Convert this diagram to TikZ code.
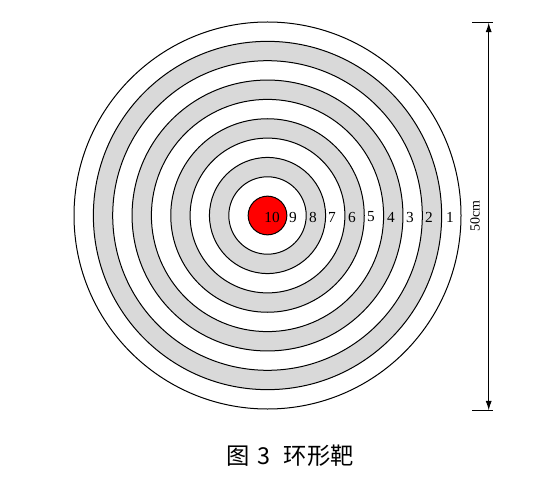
\documentclass[tikz,border=0pt]{standalone}
\usepackage{fontspec}
\setmainfont{Liberation Serif}
\newfontfamily\cjkfont{Noto Sans CJK SC}
\usetikzlibrary{arrows.meta}
\definecolor{ringgray}{RGB}{217,217,217}
\definecolor{bullred}{RGB}{255,0,0}
\begin{document}
\begin{tikzpicture}[x=0.75pt,y=-0.75pt,
  ring/.style={draw=black,line width=0.75pt},
  numlabel/.style={font=\fontsize{11.5}{13}\selectfont,inner sep=0pt},
  dimlabel/.style={font=\fontsize{10.5}{12}\selectfont,inner sep=0pt},
  dimline/.style={draw=black,line width=0.75pt,{Latex[length=7pt,width=4.5pt]}-{Latex[length=7pt,width=4.5pt]}},
  tickline/.style={draw=black,line width=0.75pt}]
\useasboundingbox (0,0) rectangle (548,484);
\coordinate (c) at (267.5,215.5);
\def\st{19.35}
\foreach \k/\col in {10/white,9/ringgray,8/white,7/ringgray,6/white,5/ringgray,4/white,3/ringgray,2/white,1/bullred}{
  \path[ring,fill=\col] (c) circle ({\k*\st*0.75pt});
}
\node[numlabel] (n10) at (272,217) {10};
\node[numlabel] (n9) at (293,217) {9};
\node[numlabel] (n8) at (313,217) {8};
\node[numlabel] (n7) at (332,217) {7};
\node[numlabel] (n6) at (352,217) {6};
\node[numlabel] (n5) at (371,217) {5};
\node[numlabel] (n4) at (391,217) {4};
\node[numlabel] (n3) at (410,217) {3};
\node[numlabel] (n2) at (429,217) {2};
\node[numlabel] (n1) at (450,217) {1};
\coordinate (dtop) at (488.7,22.7);
\coordinate (dbot) at (488.7,410.3);
\coordinate (ttl) at (472,22.7);
\coordinate (ttr) at (493,22.7);
\coordinate (tbl) at (472,410.3);
\coordinate (tbr) at (493,410.3);
\draw[tickline] (ttl) -- (ttr);
\draw[tickline] (tbl) -- (tbr);
\draw[dimline] (dtop) -- (dbot);
\node[dimlabel,rotate=90] (dim) at (475,216) {50cm};
\node[font=\cjkfont\fontsize{17.5}{19}\selectfont,inner sep=0pt] (cap) at (290,456) {图\hspace{6pt}3\hspace{10pt}环形靶};
\end{tikzpicture}
\end{document}
